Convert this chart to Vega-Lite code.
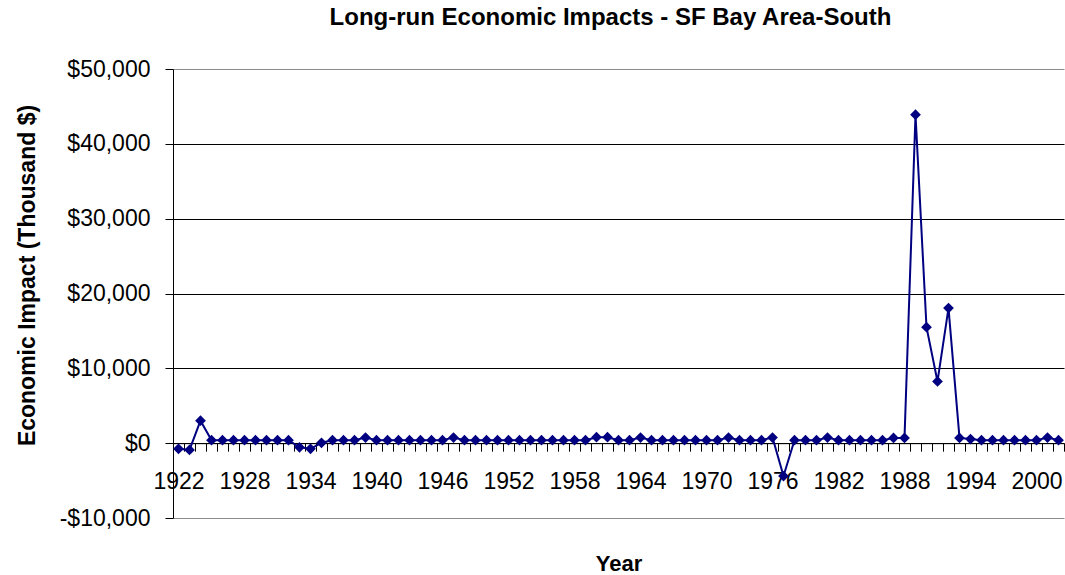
{
  "$schema": "https://vega.github.io/schema/vega-lite/v6.json",
  "autosize": {"type": "none"},
  "width": 891,
  "height": 449,
  "padding": {"left": 173, "top": 69, "right": 1, "bottom": 57},
  "background": "white",
  "config": {
    "font": "Liberation Sans",
    "view": {"stroke": null}
  },
  "title": {
    "text": "Long-run Economic Impacts - SF Bay Area-South",
    "font": "Liberation Sans",
    "fontSize": 24,
    "fontWeight": "bold",
    "color": "black",
    "anchor": "middle",
    "baseline": "alphabetic",
    "offset": 9,
    "dx": -8
  },
  "data": {
    "values": [
      {"year": 1922, "impact": -750}, {"year": 1923, "impact": -900}, {"year": 1924, "impact": 3000},
      {"year": 1925, "impact": 400}, {"year": 1926, "impact": 400}, {"year": 1927, "impact": 400},
      {"year": 1928, "impact": 400}, {"year": 1929, "impact": 400}, {"year": 1930, "impact": 400},
      {"year": 1931, "impact": 400}, {"year": 1932, "impact": 400}, {"year": 1933, "impact": -550},
      {"year": 1934, "impact": -750}, {"year": 1935, "impact": 50}, {"year": 1936, "impact": 400},
      {"year": 1937, "impact": 400}, {"year": 1938, "impact": 400}, {"year": 1939, "impact": 750},
      {"year": 1940, "impact": 400}, {"year": 1941, "impact": 400}, {"year": 1942, "impact": 400},
      {"year": 1943, "impact": 400}, {"year": 1944, "impact": 400}, {"year": 1945, "impact": 400},
      {"year": 1946, "impact": 400}, {"year": 1947, "impact": 750}, {"year": 1948, "impact": 400},
      {"year": 1949, "impact": 400}, {"year": 1950, "impact": 400}, {"year": 1951, "impact": 400},
      {"year": 1952, "impact": 400}, {"year": 1953, "impact": 400}, {"year": 1954, "impact": 400},
      {"year": 1955, "impact": 400}, {"year": 1956, "impact": 400}, {"year": 1957, "impact": 400},
      {"year": 1958, "impact": 400}, {"year": 1959, "impact": 400}, {"year": 1960, "impact": 800},
      {"year": 1961, "impact": 800}, {"year": 1962, "impact": 400}, {"year": 1963, "impact": 400},
      {"year": 1964, "impact": 750}, {"year": 1965, "impact": 400}, {"year": 1966, "impact": 400},
      {"year": 1967, "impact": 400}, {"year": 1968, "impact": 400}, {"year": 1969, "impact": 400},
      {"year": 1970, "impact": 400}, {"year": 1971, "impact": 400}, {"year": 1972, "impact": 750},
      {"year": 1973, "impact": 400}, {"year": 1974, "impact": 400}, {"year": 1975, "impact": 400},
      {"year": 1976, "impact": 750}, {"year": 1977, "impact": -4400}, {"year": 1978, "impact": 400},
      {"year": 1979, "impact": 400}, {"year": 1980, "impact": 400}, {"year": 1981, "impact": 750},
      {"year": 1982, "impact": 400}, {"year": 1983, "impact": 400}, {"year": 1984, "impact": 400},
      {"year": 1985, "impact": 400}, {"year": 1986, "impact": 400}, {"year": 1987, "impact": 700},
      {"year": 1988, "impact": 700}, {"year": 1989, "impact": 43900}, {"year": 1990, "impact": 15500},
      {"year": 1991, "impact": 8250}, {"year": 1992, "impact": 18050}, {"year": 1993, "impact": 700},
      {"year": 1994, "impact": 550}, {"year": 1995, "impact": 400}, {"year": 1996, "impact": 400},
      {"year": 1997, "impact": 400}, {"year": 1998, "impact": 400}, {"year": 1999, "impact": 400},
      {"year": 2000, "impact": 400}, {"year": 2001, "impact": 750}, {"year": 2002, "impact": 400}
    ]
  },
  "encoding": {
    "y": {
      "field": "impact",
      "type": "quantitative",
      "scale": {"domain": [-10000, 50000], "nice": false, "zero": false},
      "axis": {
        "title": "Economic Impact (Thousand $)",
        "titleFont": "Liberation Sans",
        "titleFontSize": 23,
        "titleFontWeight": "bold",
        "titleColor": "black",
        "titlePadding": 20,
        "titleY": 206,
        "values": [-10000, 0, 10000, 20000, 30000, 40000, 50000],
        "labelExpr": "datum.value < 0 ? '-$' + format(-datum.value, ',') : '$' + format(datum.value, ',')",
        "labelFont": "Liberation Sans",
        "labelFontSize": 23,
        "labelColor": "black",
        "labelPadding": 15,
        "tickSize": 8,
        "tickColor": "black",
        "domainColor": "black",
        "domainWidth": 1,
        "grid": true,
        "gridColor": {"condition": {"test": "datum.value == 50000 || datum.value == -10000", "value": "#8c8c8c"}, "value": "black"},
        "gridOpacity": 1,
        "gridWidth": 1
      }
    }
  },
  "layer": [
    {
      "mark": {"type": "line", "color": "#000080", "strokeWidth": 2},
      "encoding": {
        "x": {
          "field": "year",
          "type": "quantitative",
          "scale": {"domain": [1921.5, 2002.5], "nice": false, "zero": false},
          "axis": {
            "orient": "bottom",
            "offset": -74.83,
            "title": "Year",
            "titleFont": "Liberation Sans",
            "titleFontSize": 22,
            "titleFontWeight": "bold",
            "titleColor": "black",
            "titleBaseline": "alphabetic",
            "titleY": 127,
            "values": [1922, 1928, 1934, 1940, 1946, 1952, 1958, 1964, 1970, 1976, 1982, 1988, 1994, 2000],
            "format": "d",
            "labelFont": "Liberation Sans",
            "labelFontSize": 23,
            "labelColor": "black",
            "labelPadding": 27,
            "labelFlush": false,
            "labelOverlap": false,
            "ticks": false,
            "tickSize": 0,
            "domain": false,
            "grid": false
          }
        }
      }
    },
    {
      "mark": {"type": "point", "shape": "diamond", "filled": true, "color": "#000080", "size": 115, "opacity": 1},
      "encoding": {
        "x": {
          "field": "year",
          "type": "quantitative",
          "scale": {"domain": [1921.5, 2002.5], "nice": false, "zero": false},
          "axis": {
            "orient": "bottom",
            "offset": -74.83,
            "title": null,
            "labels": false,
            "values": [1921.5, 1922.5, 1923.5, 1924.5, 1925.5, 1926.5, 1927.5, 1928.5, 1929.5, 1930.5, 1931.5, 1932.5, 1933.5, 1934.5, 1935.5, 1936.5, 1937.5, 1938.5, 1939.5, 1940.5, 1941.5, 1942.5, 1943.5, 1944.5, 1945.5, 1946.5, 1947.5, 1948.5, 1949.5, 1950.5, 1951.5, 1952.5, 1953.5, 1954.5, 1955.5, 1956.5, 1957.5, 1958.5, 1959.5, 1960.5, 1961.5, 1962.5, 1963.5, 1964.5, 1965.5, 1966.5, 1967.5, 1968.5, 1969.5, 1970.5, 1971.5, 1972.5, 1973.5, 1974.5, 1975.5, 1976.5, 1977.5, 1978.5, 1979.5, 1980.5, 1981.5, 1982.5, 1983.5, 1984.5, 1985.5, 1986.5, 1987.5, 1988.5, 1989.5, 1990.5, 1991.5, 1992.5, 1993.5, 1994.5, 1995.5, 1996.5, 1997.5, 1998.5, 1999.5, 2000.5, 2001.5, 2002.5],
            "ticks": true,
            "tickSize": 8,
            "tickColor": "black",
            "domain": true,
            "domainColor": "black",
            "domainWidth": 1,
            "grid": false
          }
        }
      }
    }
  ],
  "resolve": {"axis": {"x": "independent"}}
}
